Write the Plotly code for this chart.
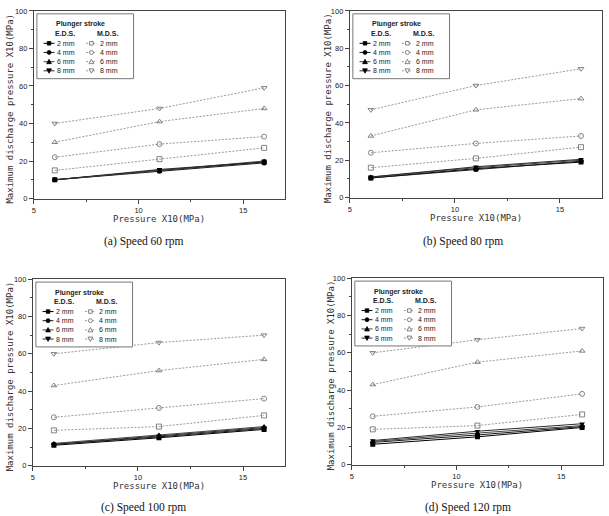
import plotly.graph_objects as go

W, H = 609, 516

# ---------------- data ----------------
pressure = [6, 11, 16]                       # Pressure X10(MPa)
strokes = ["2 mm", "4 mm", "6 mm", "8 mm"]
captions = ["(a) Speed 60 rpm", "(b) Speed 80 rpm",
            "(c) Speed 100 rpm", "(d) Speed 120 rpm"]

# E.D.S. series (rows: 2, 4, 6, 8 mm)
eds_60 = [[10, 15, 19.5], [10, 14.5, 19], [10, 15, 20], [10, 15.5, 19.5]]
eds_80 = [[10.5, 15.5, 19], [10.5, 15, 19.5], [11, 16, 20], [11, 16.5, 20.5]]
eds_100 = [[11, 15, 19.5], [11.5, 15.5, 20], [12, 16.5, 21], [11.5, 16, 20.5]]
eds_120 = [[11, 15, 20], [12, 16, 20.5], [12.5, 17, 21], [13, 18, 22]]

# M.D.S. series (rows: 2, 4, 6, 8 mm)
mds_60 = [[15, 21, 27], [22, 29, 33], [30, 41, 48], [40, 48, 59]]
mds_80 = [[16, 21, 27], [24, 29, 33], [33, 47, 53], [47, 60, 69]]
mds_100 = [[19, 21, 27], [26, 31, 36], [43, 51, 57], [60, 66, 70]]
mds_120 = [[19, 21, 27], [26, 31, 38], [43, 55, 61], [60, 67, 73]]

eds_all = [eds_60, eds_80, eds_100, eds_120]
mds_all = [mds_60, mds_80, mds_100, mds_120]

# ---------------- styles ----------------
eds_symbols = ["square", "circle", "triangle-up", "triangle-down"]
mds_symbols = ["square-open", "circle-open", "triangle-up-open", "triangle-down-open"]
eds_colors = ["#000000", "#1a1a1a", "#444444", "#2a2a2a"]
mds_color = "#808080"
axis_color = "#444444"

# panel boxes in pixels: left, right, top, bottom
panels = [(32, 284, 7, 198), (349, 602, 7, 197),
          (31, 284, 280, 470), (351, 603, 279, 469)]


def px(x):
    return x / W


def py(y):
    return 1 - y / H


def note(x, y, text, font, xanchor="center", **kw):
    d = dict(x=px(x), y=py(y), xref="paper", yref="paper", text=text,
             showarrow=False, font=font, xanchor=xanchor, yanchor="middle")
    d.update(kw)
    return d


fig = go.Figure()
shapes = []
annotations = []

title_font = dict(family="DejaVu Sans Mono", size=9, color="#333")
cap_font = dict(family="Liberation Serif", size=11.5, color="#111")
lf = dict(family="Liberation Sans", size=7, color="#222")

for i in range(4):
    L, R, T, B = panels[i]
    xa = "x" if i == 0 else f"x{i+1}"
    ya = "y" if i == 0 else f"y{i+1}"
    xkey = "xaxis" if i == 0 else f"xaxis{i+1}"
    ykey = "yaxis" if i == 0 else f"yaxis{i+1}"

    for j in range(4):
        fig.add_trace(go.Scatter(
            x=pressure, y=mds_all[i][j], xaxis=xa, yaxis=ya,
            mode="lines+markers", showlegend=False,
            name=f"M.D.S. {strokes[j]}",
            line=dict(color=mds_color, width=0.8, dash="2px,1.5px"),
            marker=dict(symbol=mds_symbols[j], size=5, color="#666666",
                        line=dict(color="#666666", width=0.8))))
    for j in range(4):
        fig.add_trace(go.Scatter(
            x=pressure, y=eds_all[i][j], xaxis=xa, yaxis=ya,
            mode="lines+markers", showlegend=False,
            name=f"E.D.S. {strokes[j]}",
            line=dict(color=eds_colors[j], width=1),
            marker=dict(symbol=eds_symbols[j], size=5, color="#000000")))

    common = dict(showgrid=False, zeroline=False, showline=True, mirror=True,
                  linecolor=axis_color, linewidth=1, ticks="outside",
                  ticklen=4, tickwidth=1, tickcolor=axis_color,
                  tickfont=dict(family="Liberation Sans", size=7.5, color="#222"))
    fig.update_layout({
        xkey: dict(common, domain=[px(L), px(R)], range=[5, 17],
                   tick0=5, dtick=5, anchor=ya,
                   minor=dict(dtick=2.5, ticklen=2, tickcolor=axis_color,
                              ticks="outside")),
        ykey: dict(common, domain=[py(B), py(T)], range=[0, 100],
                   tick0=0, dtick=20, anchor=xa,
                   minor=dict(dtick=10, ticklen=2, tickcolor=axis_color,
                              ticks="outside")),
    })

    # axis titles
    annotations.append(note((L + R) / 2, B + 21, "Pressure X10(MPa)", title_font))
    ytx = [8, 327, 8, 330][i]
    annotations.append(note(ytx, (T + B) / 2 + 4, "Maximum discharge pressure X10(MPa)",
                            title_font, textangle=-90))
    # caption
    cx = [142, 463, 142, 468][i]
    cy = [241.7, 241.7, 512.5, 512.5][i]
    annotations.append(note(cx, cy, captions[i], cap_font))

    # ---- legend box ----
    bx, by = L + 3, T + 3
    shapes.append(dict(type="rect", xref="paper", yref="paper",
                       x0=px(bx), x1=px(bx + 97), y0=py(by), y1=py(by + 66),
                       line=dict(color="#777", width=1), fillcolor="white",
                       layer="above"))
    annotations.append(note(bx + 44, by + 10.7, "<b>Plunger stroke</b>", lf))
    annotations.append(note(bx + 28, by + 20, "<b>E.D.S.</b>", lf))
    annotations.append(note(bx + 71, by + 20, "<b>M.D.S.</b>", lf))
    rows = [30, 39.3, 48.7, 58]
    for j in range(4):
        ry = by + rows[j]
        for (x0, x1, mx, tx, filled) in [(6.7, 17.7, 12.2, 18.5, True),
                                         (49.3, 60, 54.7, 61, False)]:
            lc = eds_colors[j] if filled else mds_color
            shapes.append(dict(type="line", xref="paper", yref="paper",
                               x0=px(bx + x0), x1=px(bx + x1), y0=py(ry), y1=py(ry),
                               line=dict(color=lc, width=1 if filled else 0.8,
                                         dash="solid" if filled else "2px,1.5px"),
                               layer="above"))
            cxm, cym = bx + mx, ry
            fc = "#000" if filled else "white"
            mc = "#000" if filled else "#666"
            sym = eds_symbols[j]
            if sym == "square":
                shapes.append(dict(type="rect", xref="paper", yref="paper",
                                   x0=px(cxm - 1.8), x1=px(cxm + 1.8),
                                   y0=py(cym - 1.8), y1=py(cym + 1.8),
                                   fillcolor=fc, line=dict(color=mc, width=0.8),
                                   layer="above"))
            elif sym == "circle":
                shapes.append(dict(type="circle", xref="paper", yref="paper",
                                   x0=px(cxm - 2), x1=px(cxm + 2),
                                   y0=py(cym - 2), y1=py(cym + 2),
                                   fillcolor=fc, line=dict(color=mc, width=0.8),
                                   layer="above"))
            else:
                s = 1 if sym == "triangle-up" else -1
                pts = [(cxm - 2.4, cym + 2 * s), (cxm + 2.4, cym + 2 * s),
                       (cxm, cym - 2.4 * s)]
                path = "M " + " L ".join(f"{px(a):.5f},{py(b):.5f}" for a, b in pts) + " Z"
                shapes.append(dict(type="path", xref="paper", yref="paper",
                                   path=path, fillcolor=fc,
                                   line=dict(color=mc, width=0.8), layer="above"))
            annotations.append(note(bx + tx, ry, strokes[j], lf, xanchor="left"))

fig.update_layout(width=W, height=H, margin=dict(l=0, r=0, t=0, b=0),
                  paper_bgcolor="white", plot_bgcolor="white",
                  showlegend=False, shapes=shapes, annotations=annotations)

fig.write_html("out.html")
